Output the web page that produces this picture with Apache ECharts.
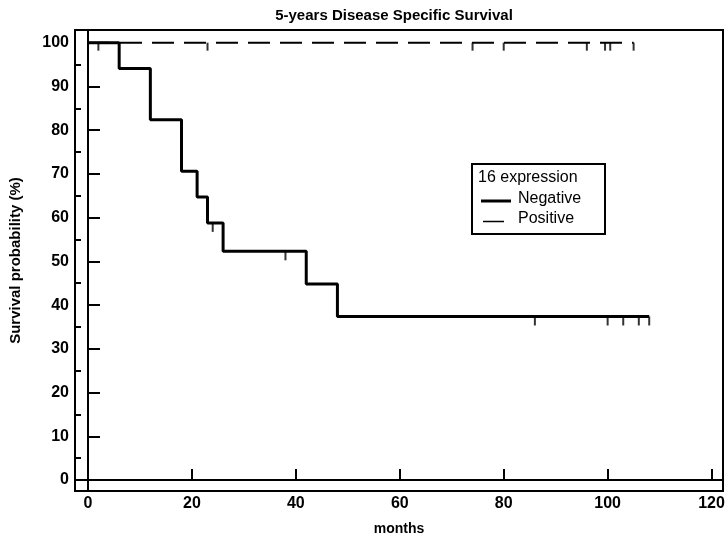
<!DOCTYPE html>
<html><head><meta charset="utf-8">
<script src="https://cdn.jsdelivr.net/npm/echarts@6/dist/echarts.min.js"></script>
<style>html,body{margin:0;padding:0;background:#fff}#c{width:728px;height:541px}</style>
</head><body><div id="c"></div>
<script>
// ---- data ----
const titleText = '5-years Disease Specific Survival';
const xName = 'months';
const yName = 'Survival probability (%)';
const legendTitle = '16 expression';
const seriesNames = ['Negative', 'Positive'];
const xTicks = [0, 20, 40, 60, 80, 100, 120];
const yTicks = [0, 10, 20, 30, 40, 50, 60, 70, 80, 90, 100];
const yMinorTicks = [5, 15, 25, 35, 45, 55, 65, 75, 85, 95];
// Negative group (Kaplan-Meier steps)
const negTimes = [0, 6, 12, 18, 21, 23, 26, 42, 48, 108];
const negSurv  = [100, 94.1, 82.4, 70.6, 64.7, 58.8, 52.3, 44.8, 37.4, 37.4];
const negCensorTimes = [24, 38, 86, 100, 103, 106, 108];
// Positive group
const posTimes = [0, 105];
const posSurv  = [100, 100];
const posCensorTimes = [2, 23, 74, 80, 96, 99.5, 100.5, 105];

// ---- helpers ----
function survAt(times, surv, t) {
  let v = surv[0];
  for (let i = 0; i < times.length; i++) if (times[i] <= t) v = surv[i];
  return v;
}
const negLine = negTimes.map((t, i) => [t, negSurv[i]]);
const posLine = posTimes.map((t, i) => [t, posSurv[i]]);
const negCens = negCensorTimes.map(t => [t, survAt(negTimes, negSurv, t)]);
const posCens = posCensorTimes.map(t => [t, survAt(posTimes, posSurv, t)]);

const FONT = '"Liberation Sans", Arial, sans-serif';

const chart = echarts.init(document.getElementById('c'), null, {renderer: 'canvas'});
chart.setOption({
  animation: false,
  backgroundColor: '#fff',
  title: {
    text: titleText, left: 394, top: 8, textAlign: 'center', padding: 0,
    textStyle: {fontFamily: FONT, fontSize: 15, fontWeight: 'bold', color: '#000'}
  },
  grid: {left: 66, right: 5, top: 30, bottom: 50, show: true, borderColor: '#000', borderWidth: 2},
  xAxis: {
    type: 'value', min: -2.5, max: 122.2,
    name: xName, nameLocation: 'middle', nameGap: 31,
    nameTextStyle: {fontFamily: FONT, fontSize: 14, fontWeight: 'bold', color: '#000'},
    axisLine: {show: true, lineStyle: {color: '#000', width: 2}},
    axisTick: {show: true, inside: true, length: 11, lineStyle: {color: '#000', width: 2}, customValues: xTicks},
    axisLabel: {customValues: xTicks, margin: 5, fontFamily: FONT, fontSize: 16, fontWeight: 'bold', color: '#000'},
    splitLine: {show: false}
  },
  yAxis: [{
    type: 'value', min: -2.5, max: 102.9,
    name: yName, nameLocation: 'middle', nameGap: 52, nameRotate: 90,
    nameTextStyle: {fontFamily: FONT, fontSize: 15, fontWeight: 'bold', color: '#000'},
    axisLine: {show: true, lineStyle: {color: '#000', width: 2}},
    axisTick: {show: true, inside: true, length: 12, lineStyle: {color: '#000', width: 2}, customValues: yTicks},
    axisLabel: {customValues: yTicks, margin: 6, fontFamily: FONT, fontSize: 16, fontWeight: 'bold', color: '#000'},
    splitLine: {show: false}
  }, {
    type: 'value', min: -2.5, max: 102.9, position: 'left',
    axisLine: {show: false},
    axisTick: {show: true, inside: true, length: 6, lineStyle: {color: '#000', width: 2}, customValues: yMinorTicks},
    axisLabel: {show: false},
    splitLine: {show: false}
  }],
  series: [{
    name: seriesNames[1], type: 'line', data: posLine, symbol: 'none', z: 2,
    lineStyle: {color: '#000', width: 2, type: [22, 10]}
  }, {
    name: seriesNames[0], type: 'line', step: 'end', data: negLine, symbol: 'none', z: 3,
    lineStyle: {color: '#000', width: 3}
  }, {
    type: 'scatter', data: negCens, symbol: 'rect', symbolSize: [2, 9], symbolOffset: [0, 4.5],
    itemStyle: {color: '#000'}, z: 4
  }, {
    type: 'scatter', data: posCens, symbol: 'rect', symbolSize: [2, 8], symbolOffset: [0, 4],
    itemStyle: {color: '#000'}, z: 4
  }],
  graphic: [{
    type: 'group', left: 471, top: 163,
    children: [
      {type: 'rect', shape: {x: 0, y: 0, width: 133, height: 70}, style: {fill: '#fff', stroke: '#000', lineWidth: 2}},
      {type: 'text', x: 6, y: 14, style: {text: legendTitle, font: '16px ' + FONT, fill: '#000', verticalAlign: 'middle'}},
      {type: 'line', shape: {x1: 9, y1: 37, x2: 39, y2: 37}, style: {stroke: '#000', lineWidth: 3}},
      {type: 'text', x: 46, y: 35, style: {text: seriesNames[0], font: '16px ' + FONT, fill: '#000', verticalAlign: 'middle'}},
      {type: 'line', shape: {x1: 11, y1: 57.5, x2: 32, y2: 57.5}, style: {stroke: '#000', lineWidth: 1.5}},
      {type: 'text', x: 46, y: 55, style: {text: seriesNames[1], font: '16px ' + FONT, fill: '#000', verticalAlign: 'middle'}}
    ]
  }]
});
</script></body></html>
